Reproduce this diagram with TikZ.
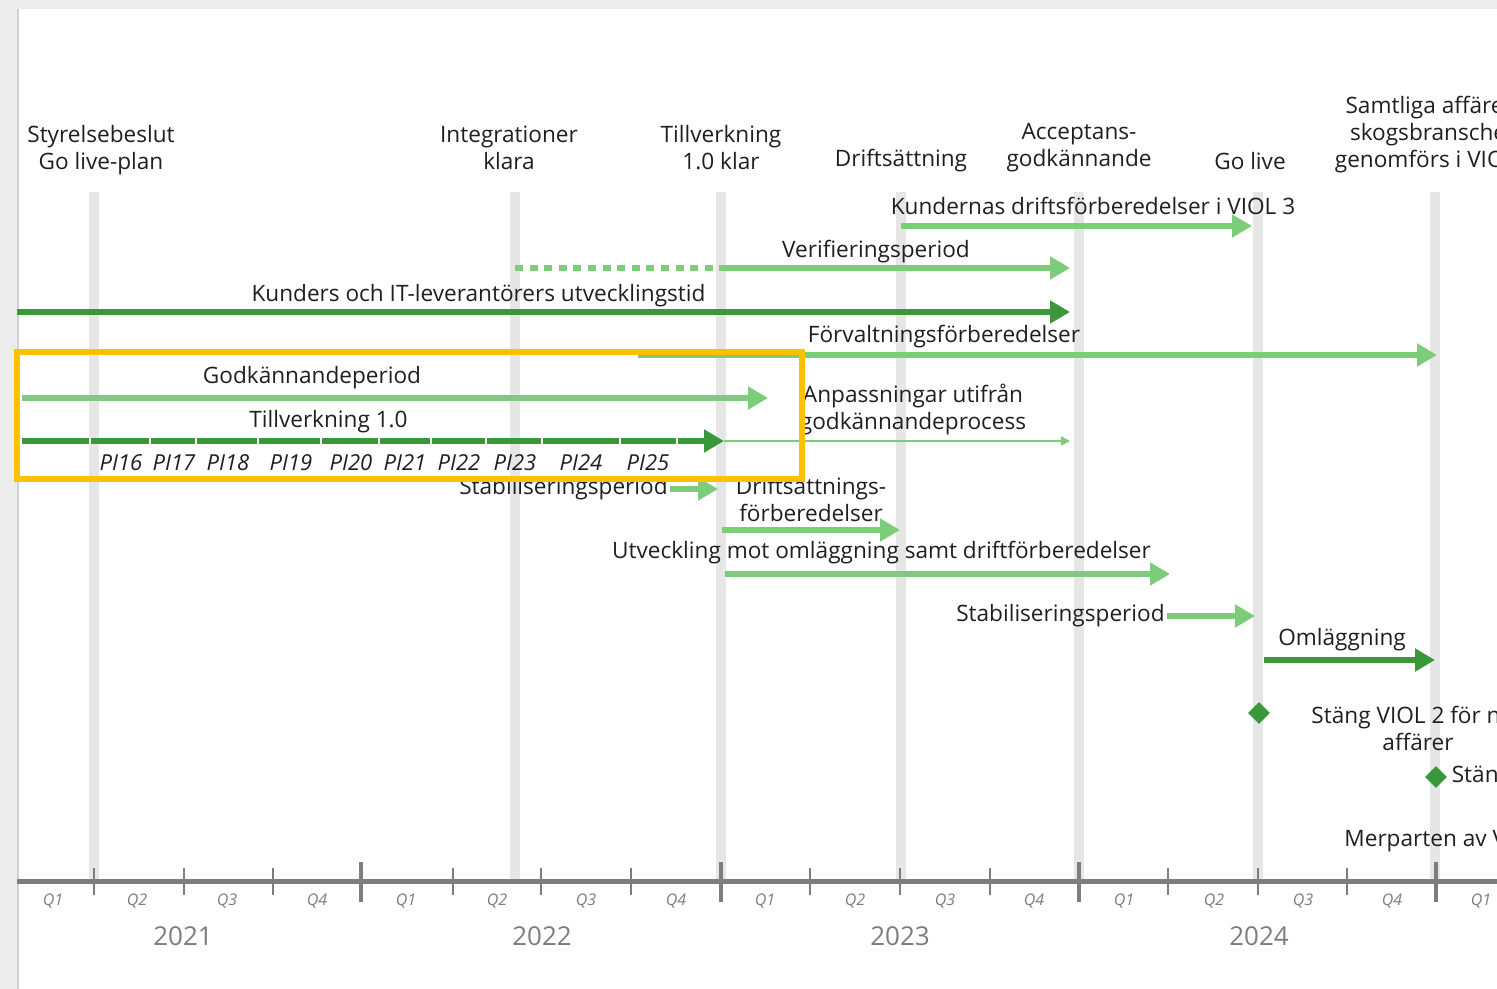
\documentclass[tikz,border=0pt]{standalone}
\usepackage{fontspec}
\setmainfont{Open Sans}
\usetikzlibrary{positioning, arrows.meta, shapes.geometric}
\definecolor{ljusgron}{RGB}{124,204,122}
\definecolor{morkgron}{RGB}{58,152,58}
\definecolor{band}{RGB}{230,230,230}
\definecolor{axel}{RGB}{125,125,125}
\definecolor{markering}{RGB}{255,192,0}
\tikzset{
  etikett/.style={font=\fontsize{11.3}{13.5}\selectfont, align=center, inner sep=0pt, text=black!88},
  ljuspil/.style={line width=3pt, ljusgron, -{Triangle[length=10pt,width=11pt]}},
  morkpil/.style={line width=3pt, morkgron, -{Triangle[length=10pt,width=11pt]}},
  tunnpil/.style={line width=0.8pt, ljusgron, -{Triangle[length=4.5pt,width=4.5pt]}},
  kvartal/.style={font=\fontsize{8}{9}\selectfont\itshape, text=axel, inner sep=0pt},
  artal/.style={font=\fontsize{13}{15}\selectfont, text=axel, inner sep=0pt},
  pinod/.style={font=\fontsize{11}{12}\selectfont\itshape, inner sep=0pt, text=black!88},
  milstolpe/.style={diamond, fill=morkgron, minimum size=11pt, inner sep=0pt}
}

\begin{document}
\begin{tikzpicture}[x=0.5pt, y=-0.5pt]
    \useasboundingbox (0,0) rectangle (1497,989);
    \clip (0,0) rectangle (1497,989);
    % bakgrund
    \fill[black!7] (0,0) rectangle (1497,989);
    \fill[white] (18,9) rectangle (1497,989);
    \draw[black!18, line width=1pt] (18,9) -- (18,989);

    \foreach \x in {94,515,721,901,1079,1258,1435}
        \fill[band] (\x-5,192) rectangle (\x+5,882);

    % tidsaxel
    \draw[axel, line width=2.5pt] (17,881) -- (1497,881);
    \foreach \x in {361,721,1079,1436}
        \draw[axel, line width=1.6pt] (\x,862) -- (\x,902);
    \foreach \x in {94,184,273,453,541,631,810,900,990,1168,1258,1347}
        \draw[axel, line width=0.6pt] (\x,868) -- (\x,895);
    \foreach \x/\q in {53/Q1,137/Q2,227/Q3,317/Q4,406/Q1,497/Q2,586/Q3,676/Q4,765/Q1,855/Q2,945/Q3,1034/Q4,1124/Q1,1214/Q2,1303/Q3,1392/Q4,1481/Q1}
        \node[kvartal] at (\x,901) {\q};
    \foreach \x/\a in {183/2021,542/2022,900/2023,1259/2024}
        \node[artal] at (\x,936) {\a};

    % milstolpar
    \node[etikett] (styr) at (101,150) {Styrelsebeslut\\Go live-plan};
    \node[etikett] (integ) at (509,148) {Integrationer\\klara};
    \node[etikett] (tklar) at (721,148) {Tillverkning\\1.0 klar};
    \node[etikett] (drifts) at (901,161) {Driftsättning};
    \node[etikett] (accept) at (1079,148) {Acceptans-\\godkännande};
    \node[etikett] (golive) at (1250,161) {Go live};
    \node[etikett] (samtl) at (1435,135) {Samtliga affärer i\\skogsbranschen\\genomförs i VIOL 3};

    % perioder
    \coordinate (kd-s) at (901,226);  \coordinate (kd-e) at (1252,226);
    \coordinate (ver-a) at (515,268); \coordinate (ver-s) at (723,268); \coordinate (ver-e) at (1070,268);
    \coordinate (kit-s) at (17,312);  \coordinate (kit-e) at (1070,312);
    \coordinate (fv-s) at (638,355);  \coordinate (fv-e) at (1437,355);
    \coordinate (gk-s) at (22,398);   \coordinate (gk-e) at (768,398);
    \coordinate (tv-s) at (22,441);   \coordinate (tv-e) at (724,441);
    \coordinate (anp-e) at (1070,441);
    \coordinate (st1-s) at (670,489); \coordinate (st1-e) at (718,489);
    \coordinate (df-s) at (722,530);  \coordinate (df-e) at (900,530);
    \coordinate (utv-s) at (725,574); \coordinate (utv-e) at (1170,574);
    \coordinate (st2-s) at (1167,616); \coordinate (st2-e) at (1255,616);
    \coordinate (oml-s) at (1264,660); \coordinate (oml-e) at (1435,660);

    \node[etikett] (kd) at (1093,206) {Kundernas driftsförberedelser i VIOL 3};
    \draw[ljuspil] (kd-s) -- (kd-e);
    \node[etikett] (ver) at (876,252) {Verifieringsperiod};
    \draw[ljusgron, line width=3pt, dash pattern=on 4pt off 3.3pt] (ver-a) -- (ver-s);
    \draw[ljuspil] (ver-s) -- (ver-e);
    \node[etikett] (kit) at (478.5,296) {Kunders och IT-leverantörers utvecklingstid};
    \draw[morkpil] (kit-s) -- (kit-e);
    \node[etikett] (fv) at (944,337) {Förvaltningsförberedelser};
    \draw[ljuspil] (fv-s) -- (fv-e);
    \node[etikett] (gk) at (312,378) {Godkännandeperiod};
    \draw[ljuspil] (gk-s) -- (gk-e);
    \node[etikett] (tv) at (328.5,422) {Tillverkning 1.0};
    \draw[morkpil] (tv-s) -- (tv-e);
    \foreach \x in {90,150,196,258,321,379,431,486,542,620,677}
        \draw[white, line width=1pt] (\x,436) -- (\x,446);
    \foreach \x/\p in {121/16,174/17,228/18,291/19,351/20,405/21,459/22,515/23,581/24,648/25}
        \node[pinod] at (\x,463) {PI\p};
    \draw[tunnpil] (tv-e) -- (anp-e);
    \node[etikett] (anp) at (913,410) {Anpassningar utifrån\\godkännandeprocess};
    \node[etikett, left=1pt of st1-s] (st1) {Stabiliseringsperiod};
    \draw[ljuspil] (st1-s) -- (st1-e);
    \node[etikett] (df) at (811,499) {Driftsättnings-\\förberedelser};
    \draw[ljuspil] (df-s) -- (df-e);
    \node[etikett] (utv) at (881.5,553) {Utveckling mot omläggning samt driftförberedelser};
    \draw[ljuspil] (utv-s) -- (utv-e);
    \node[etikett, left=1pt of st2-s] (st2) {Stabiliseringsperiod};
    \draw[ljuspil] (st2-s) -- (st2-e);
    \node[etikett] (oml) at (1342,640) {Omläggning};
    \draw[morkpil] (oml-s) -- (oml-e);

    \node[milstolpe] (m1) at (1259,713) {};
    \node[etikett] (stang1) at (1418,728) {Stäng VIOL 2 för nya\\affärer};
    \node[milstolpe] (m2) at (1436,777) {};
    \node[etikett, right=2pt of m2] (stang2) {Stäng VIOL 2};
    \node[etikett, anchor=west] (merp) at (1344,841) {Merparten av VIOL 2};

    % markering
    \draw[markering, line width=3.4pt] (17,352) rectangle (802,479);
\end{tikzpicture}
\end{document}
